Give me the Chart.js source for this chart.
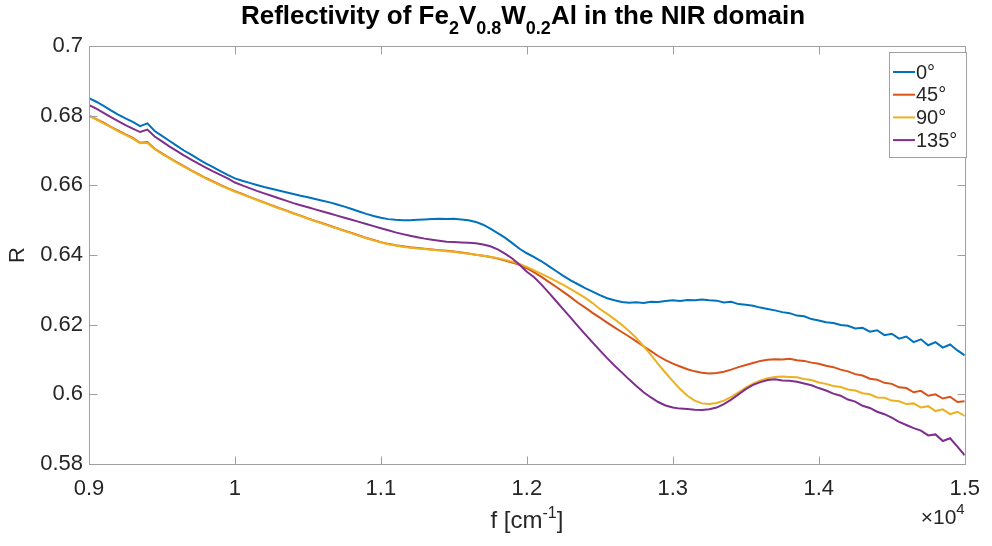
<!DOCTYPE html>
<html>
<head>
<meta charset="utf-8">
<title>Reflectivity NIR</title>
<script src="https://cdn.jsdelivr.net/npm/chart.js@4/dist/chart.umd.min.js"></script>
<style>
  html, body { margin: 0; padding: 0; background: #fff; }
  #wrap { width: 992px; height: 546px; }
</style>
</head>
<body>
<div id="wrap"><canvas id="refl" width="992" height="546"></canvas></div>
<script>
// wavenumber in cm^-1
const freq = [
  9000, 9050, 9100, 9150, 9200, 9250, 9300, 9350, 9400, 9450,
  9500, 9550, 9600, 9650, 9700, 9750, 9800, 9850, 9900, 9950,
  10000, 10050, 10100, 10150, 10200, 10250, 10300, 10350, 10400, 10450,
  10500, 10550, 10600, 10650, 10700, 10750, 10800, 10850, 10900, 10950,
  11000, 11050, 11100, 11150, 11200, 11250, 11300, 11350, 11400, 11450,
  11500, 11550, 11600, 11650, 11700, 11750, 11800, 11850, 11900, 11950,
  12000, 12050, 12100, 12150, 12200, 12250, 12300, 12350, 12400, 12450,
  12500, 12550, 12600, 12650, 12700, 12750, 12800, 12850, 12900, 12950,
  13000, 13050, 13100, 13150, 13200, 13250, 13300, 13350, 13400, 13450,
  13500, 13550, 13600, 13650, 13700, 13750, 13800, 13850, 13900, 13950,
  14000, 14050, 14100, 14150, 14200, 14250, 14300, 14350, 14400, 14450,
  14500, 14550, 14600, 14650, 14700, 14750, 14800, 14850, 14900, 14950,
  15000
];

const r0 = [
  0.6850, 0.6840, 0.6828, 0.6815, 0.6803, 0.6792, 0.6782, 0.6770, 0.6778, 0.6756,
  0.6742, 0.6728, 0.6714, 0.6700, 0.6688, 0.6675, 0.6663, 0.6652, 0.6641, 0.6630,
  0.6620, 0.6613, 0.6607, 0.6601, 0.6595, 0.6590, 0.6585, 0.6580, 0.6575, 0.6570,
  0.6566, 0.6561, 0.6556, 0.6551, 0.6545, 0.6539, 0.6532, 0.6525, 0.6518, 0.6512,
  0.6507, 0.6503, 0.6501, 0.6500, 0.6500, 0.6501, 0.6502, 0.6503, 0.6504, 0.6503,
  0.6504, 0.6502, 0.6500, 0.6495, 0.6487, 0.6476, 0.6463, 0.6450, 0.6434, 0.6418,
  0.6405, 0.6394, 0.6382, 0.6368, 0.6354, 0.6340, 0.6327, 0.6316, 0.6305, 0.6295,
  0.6285, 0.6276, 0.6270, 0.6265, 0.6263, 0.6264, 0.6262, 0.6266, 0.6265, 0.6268,
  0.6270, 0.6268, 0.6271, 0.6270, 0.6272, 0.6270, 0.6269, 0.6264, 0.6266, 0.6259,
  0.6257, 0.6254, 0.6249, 0.6245, 0.6241, 0.6236, 0.6233, 0.6226, 0.6224, 0.6216,
  0.6212, 0.6207, 0.6205, 0.6199, 0.6197, 0.6189, 0.6191, 0.6180, 0.6184, 0.6170,
  0.6174, 0.6160, 0.6166, 0.6150, 0.6158, 0.6141, 0.6150, 0.6134, 0.6143, 0.6126,
  0.6112
];

const r45 = [
  0.6800, 0.6790, 0.6780, 0.6768, 0.6757, 0.6746, 0.6736, 0.6722, 0.6724, 0.6705,
  0.6692, 0.6679, 0.6667, 0.6655, 0.6643, 0.6632, 0.6621, 0.6611, 0.6601, 0.6592,
  0.6583, 0.6575, 0.6567, 0.6559, 0.6551, 0.6543, 0.6535, 0.6528, 0.6520, 0.6513,
  0.6505, 0.6498, 0.6491, 0.6484, 0.6477, 0.6470, 0.6463, 0.6456, 0.6449, 0.6443,
  0.6437, 0.6432, 0.6428, 0.6425, 0.6422, 0.6420, 0.6418, 0.6416, 0.6414, 0.6412,
  0.6410, 0.6407, 0.6404, 0.6401, 0.6398, 0.6394, 0.6390, 0.6384, 0.6378, 0.6372,
  0.6362, 0.6350, 0.6337, 0.6323, 0.6309, 0.6294, 0.6279, 0.6263, 0.6249, 0.6234,
  0.6220, 0.6206, 0.6192, 0.6179, 0.6166, 0.6152, 0.6138, 0.6124, 0.6110, 0.6098,
  0.6088, 0.6080, 0.6072, 0.6066, 0.6062, 0.6060, 0.6061, 0.6065, 0.6071, 0.6078,
  0.6084, 0.6090, 0.6096, 0.6099, 0.6101, 0.6100, 0.6102, 0.6098, 0.6096, 0.6091,
  0.6088, 0.6082, 0.6078, 0.6071, 0.6066, 0.6058, 0.6054, 0.6045, 0.6042, 0.6033,
  0.6030, 0.6020, 0.6018, 0.6006, 0.6010, 0.5996, 0.6000, 0.5988, 0.5993, 0.5978,
  0.5980
];

const r90 = [
  0.6799, 0.6789, 0.6778, 0.6767, 0.6755, 0.6745, 0.6734, 0.6721, 0.6722, 0.6704,
  0.6690, 0.6678, 0.6665, 0.6654, 0.6642, 0.6631, 0.6620, 0.6610, 0.6600, 0.6591,
  0.6582, 0.6574, 0.6566, 0.6558, 0.6550, 0.6542, 0.6534, 0.6527, 0.6519, 0.6512,
  0.6504, 0.6497, 0.6490, 0.6483, 0.6476, 0.6469, 0.6462, 0.6455, 0.6448, 0.6442,
  0.6436, 0.6431, 0.6427, 0.6424, 0.6421, 0.6419, 0.6417, 0.6415, 0.6413, 0.6411,
  0.6409, 0.6406, 0.6404, 0.6401, 0.6398, 0.6395, 0.6391, 0.6386, 0.6381, 0.6374,
  0.6366, 0.6356, 0.6346, 0.6336, 0.6325, 0.6314, 0.6302, 0.6290, 0.6277, 0.6262,
  0.6245, 0.6231, 0.6216, 0.6200, 0.6182, 0.6162, 0.6138, 0.6113, 0.6087, 0.6062,
  0.6038, 0.6015, 0.5996, 0.5982, 0.5974, 0.5972, 0.5975, 0.5982, 0.5993, 0.6006,
  0.6019, 0.6031, 0.6040, 0.6046, 0.6050, 0.6051, 0.6050, 0.6049, 0.6044, 0.6041,
  0.6034, 0.6030, 0.6024, 0.6021, 0.6014, 0.6011, 0.6003, 0.6000, 0.5991, 0.5990,
  0.5982, 0.5980, 0.5972, 0.5974, 0.5962, 0.5966, 0.5952, 0.5957, 0.5943, 0.5950,
  0.5938
];

const r135 = [
  0.6830, 0.6820, 0.6808, 0.6796, 0.6784, 0.6773, 0.6763, 0.6753, 0.6760, 0.6740,
  0.6726, 0.6712, 0.6699, 0.6686, 0.6674, 0.6662, 0.6651, 0.6640, 0.6630, 0.6620,
  0.6608, 0.6600, 0.6592, 0.6584, 0.6577, 0.6570, 0.6563, 0.6556, 0.6549, 0.6543,
  0.6537, 0.6531, 0.6525, 0.6519, 0.6513, 0.6507, 0.6501, 0.6495, 0.6489, 0.6483,
  0.6477, 0.6471, 0.6465, 0.6460, 0.6455, 0.6451, 0.6447, 0.6444, 0.6441, 0.6438,
  0.6437, 0.6436, 0.6435, 0.6434, 0.6430, 0.6425, 0.6416, 0.6404, 0.6390, 0.6372,
  0.6352, 0.6336, 0.6315, 0.6292, 0.6268, 0.6244, 0.6220, 0.6196, 0.6172, 0.6149,
  0.6126, 0.6104, 0.6083, 0.6063, 0.6043, 0.6024, 0.6006, 0.5991, 0.5978, 0.5968,
  0.5962, 0.5959, 0.5958, 0.5956, 0.5955, 0.5957, 0.5962, 0.5972, 0.5985, 0.6000,
  0.6015, 0.6027, 0.6035, 0.6041, 0.6043, 0.6040, 0.6039, 0.6036, 0.6031, 0.6026,
  0.6018, 0.6011, 0.6002, 0.5996, 0.5985, 0.5979, 0.5967, 0.5961, 0.5950, 0.5943,
  0.5933, 0.5921, 0.5912, 0.5903, 0.5896, 0.5882, 0.5885, 0.5866, 0.5874, 0.5850,
  0.5825
];

const angles = ['0°', '45°', '90°', '135°'];
const colors = ['#0072BD', '#D95319', '#EDB120', '#7E2F8E'];
const xTicks = [9000, 10000, 11000, 12000, 13000, 14000, 15000];
const yTicks = [0.58, 0.6, 0.62, 0.64, 0.66, 0.68, 0.7];

const FONT = "'Liberation Sans', Arial, Helvetica, sans-serif";
const TEXT = '#262626';
const AXIS = '#a0a0a0';

const toPoints = (ys) => ys.map((y, i) => ({ x: freq[i], y: y }));

// draws a row of text pieces (normal / sub / superscript) centred on cx
const drawRuns = (ctx, runs, cx, base) => {
    let total = 0;
    runs.forEach(r => { ctx.font = r.font; r.w = ctx.measureText(r.text).width; total += r.w; });
    let x = cx - total / 2;
    ctx.textAlign = 'left';
    ctx.textBaseline = 'alphabetic';
    runs.forEach(r => {
        ctx.font = r.font;
        ctx.fillText(r.text, x, base + (r.dy || 0));
        x += r.w;
    });
};

// box, inward ticks, titles and legend
const matlabAxes = {
    id: 'matlabAxes',
    afterDraw(chart) {
        const { ctx, chartArea: a, scales: { x, y } } = chart;
        ctx.save();

        ctx.strokeStyle = AXIS;
        ctx.lineWidth = 1;
        const L = Math.round(a.left) + 0.5, R = Math.round(a.right) + 0.5;
        const T = Math.round(a.top) + 0.5, B = Math.round(a.bottom) + 0.5;
        ctx.strokeRect(L, T, R - L, B - T);
        ctx.beginPath();
        xTicks.forEach(v => {
            const px = Math.round(x.getPixelForValue(v)) + 0.5;
            ctx.moveTo(px, B); ctx.lineTo(px, B - 8);
            ctx.moveTo(px, T); ctx.lineTo(px, T + 8);
        });
        yTicks.forEach(v => {
            const py = Math.round(y.getPixelForValue(v)) + 0.5;
            ctx.moveTo(L, py); ctx.lineTo(L + 8, py);
            ctx.moveTo(R, py); ctx.lineTo(R - 8, py);
        });
        ctx.stroke();

        ctx.fillStyle = '#000';
        const bold = (s) => `bold ${s}px ${FONT}`;
        drawRuns(ctx, [
            { text: 'Reflectivity of Fe', font: bold(26) },
            { text: '2', font: bold(18), dy: 10 },
            { text: 'V', font: bold(26) },
            { text: '0.8', font: bold(18), dy: 10 },
            { text: 'W', font: bold(26) },
            { text: '0.2', font: bold(18), dy: 10 },
            { text: 'Al in the NIR domain', font: bold(26) }
        ], 523, 24);

        ctx.fillStyle = TEXT;
        const norm = (s) => `${s}px ${FONT}`;
        drawRuns(ctx, [
            { text: 'f [cm', font: norm(24) },
            { text: '-1', font: norm(16), dy: -10 },
            { text: ']', font: norm(24) }
        ], (a.left + a.right) / 2, 528);

        // exponent of the x axis
        ctx.font = norm(21);
        const w10 = ctx.measureText('×10').width;
        ctx.font = norm(15);
        const w4 = ctx.measureText('4').width;
        drawRuns(ctx, [
            { text: '×10', font: norm(21) },
            { text: '4', font: norm(15), dy: -10 }
        ], a.right - (w10 + w4) / 2, 524);

        ctx.save();
        ctx.translate(24, (a.top + a.bottom) / 2);
        ctx.rotate(-Math.PI / 2);
        ctx.font = norm(22);
        ctx.textAlign = 'center';
        ctx.textBaseline = 'alphabetic';
        ctx.fillText('R', 0, 0);
        ctx.restore();

        // legend
        const lx = 889, ly = 52, lw = 77, lh = 105;
        ctx.fillStyle = '#fff';
        ctx.fillRect(lx, ly, lw, lh);
        ctx.strokeStyle = AXIS;
        ctx.strokeRect(lx + 0.5, ly + 0.5, lw, lh);
        ctx.font = norm(20);
        ctx.textAlign = 'left';
        ctx.textBaseline = 'middle';
        chart.data.datasets.forEach((ds, i) => {
            const yy = 72 + i * 22.7;
            ctx.strokeStyle = ds.borderColor;
            ctx.lineWidth = 2;
            ctx.beginPath();
            ctx.moveTo(893, yy); ctx.lineTo(915, yy);
            ctx.stroke();
            ctx.fillStyle = TEXT;
            ctx.fillText(ds.label, 916, yy + 1);
        });

        ctx.restore();
    }
};

const series = [r0, r45, r90, r135];

new Chart(document.getElementById('refl'), {
    type: 'line',
    data: {
        datasets: series.map((ys, i) => ({
            label: angles[i],
            data: toPoints(ys),
            borderColor: colors[i],
            borderWidth: 2,
            pointRadius: 0,
            tension: 0,
            fill: false,
            order: series.length - i
        }))
    },
    options: {
        responsive: false,
        animation: false,
        events: [],
        layout: { padding: { top: 46, right: 21, left: 0, bottom: 0 } },
        plugins: { legend: { display: false }, title: { display: false }, tooltip: { enabled: false } },
        scales: {
            x: {
                type: 'linear',
                min: 9000,
                max: 15000,
                afterBuildTicks: (s) => { s.ticks = xTicks.map(v => ({ value: v })); },
                afterFit: (s) => { s.height = 82; },
                grid: { display: false, drawTicks: false },
                border: { display: false },
                ticks: {
                    padding: 12,
                    color: TEXT,
                    font: { family: FONT, size: 22 },
                    maxRotation: 0,
                    callback: (v) => String(v / 1e4)
                }
            },
            y: {
                min: 0.58,
                max: 0.7,
                afterBuildTicks: (s) => { s.ticks = yTicks.map(v => ({ value: v })); },
                afterFit: (s) => { s.width = 89; },
                grid: { display: false, drawTicks: false },
                border: { display: false },
                ticks: {
                    padding: 6,
                    color: TEXT,
                    font: { family: FONT, size: 22 },
                    callback: (v) => String(Number(v.toFixed(2)))
                }
            }
        }
    },
    plugins: [matlabAxes]
});
</script>
</body>
</html>
